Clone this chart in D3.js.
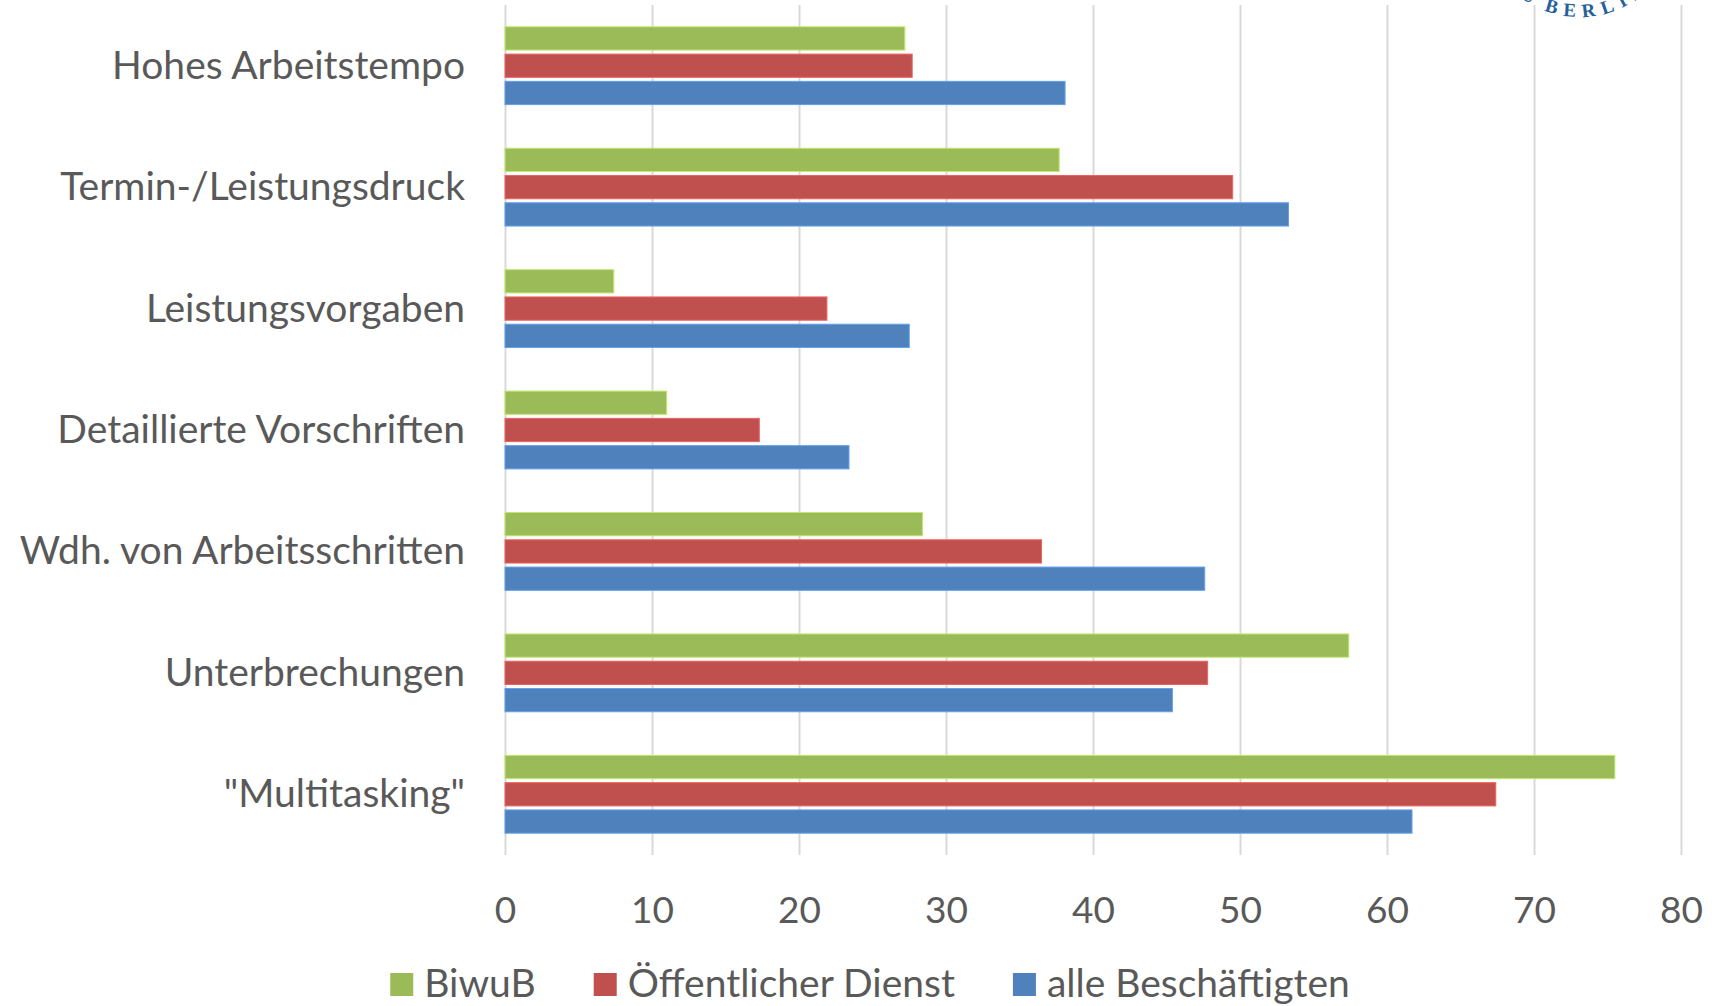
<!DOCTYPE html>
<html>
<head>
<meta charset="utf-8">
<script src="https://cdn.jsdelivr.net/npm/d3@7"></script>
<style>
  body { margin: 0; background: #fff; }
  svg text { font-family: Lato, "Open Sans", sans-serif; fill: #595959; }
  .logo text { font-family: "Liberation Serif", "DejaVu Serif", serif; fill: #25609b; }
</style>
</head>
<body>
<svg id="chart" width="1721" height="1006"></svg>
<script>
// categories, top to bottom
const categories = [
    "Hohes Arbeitstempo",
    "Termin-/Leistungsdruck",
    "Leistungsvorgaben",
    "Detaillierte Vorschriften",
    "Wdh. von Arbeitsschritten",
    "Unterbrechungen",
    "\"Multitasking\""
];

const seriesNames = ["BiwuB", "Öffentlicher Dienst", "alle Beschäftigten"];
const seriesColors = ["#9bbb59", "#c0504d", "#4f81bd"];

// values in percent
const biwub = [27.2, 37.7, 7.4, 11.0, 28.4, 57.4, 75.5];
const oeffentlicherDienst = [27.7, 49.5, 21.9, 17.3, 36.5, 47.8, 67.4];
const alleBeschaeftigten = [38.1, 53.3, 27.5, 23.4, 47.6, 45.4, 61.7];

const xTicks = [0, 10, 20, 30, 40, 50, 60, 70, 80];

const seriesValues = [biwub, oeffentlicherDienst, alleBeschaeftigten];

const svg = d3.select("#chart");
const margin = {top: 5, left: 505, right: 40};
const plotBottom = 855;
const width = +svg.attr("width");
const labelSize = "39px";

const x = d3.scaleLinear()
    .domain([0, 80])
    .range([margin.left, width - margin.right]);

const y0 = d3.scaleBand()
    .domain(categories)
    .range([margin.top, plotBottom])
    .padding(0);

const y1 = d3.scaleBand()
    .domain(seriesNames)
    .range([0, y0.bandwidth()])
    .paddingInner(0.147)
    .paddingOuter(0.8);

const color = d3.scaleOrdinal().domain(seriesNames).range(seriesColors);

// gridlines
svg.append("g")
    .attr("transform", `translate(0,${plotBottom})`)
    .call(d3.axisBottom(x).tickValues(xTicks).tickSize(-(plotBottom - margin.top)).tickFormat(""))
    .call(g => g.select(".domain").remove())
    .call(g => g.selectAll("line").attr("stroke", "#d9d9d9").attr("stroke-width", 2));

// tick labels
svg.append("g")
    .attr("transform", `translate(0,${plotBottom})`)
    .call(d3.axisBottom(x).tickValues(xTicks).tickSize(0).tickPadding(0))
    .call(g => g.select(".domain").remove())
    .call(g => g.selectAll("text")
        .attr("y", 68)
        .attr("dy", null)
        .style("font-size", "37px")
        .style("fill", "#595959"));

// bars
const rows = categories.map((c, i) => ({
    category: c,
    values: seriesNames.map((s, j) => ({series: s, value: seriesValues[j][i]}))
}));

const groups = svg.append("g").selectAll("g")
    .data(rows)
    .enter().append("g")
    .attr("transform", d => `translate(0,${y0(d.category)})`);

groups.selectAll("rect")
    .data(d => d.values)
    .enter().append("rect")
    .attr("x", x(0))
    .attr("y", d => y1(d.series))
    .attr("width", d => x(d.value) - x(0))
    .attr("height", y1.bandwidth())
    .attr("fill", d => color(d.series))
    .attr("stroke", d => d3.color(color(d.series)).brighter(0.6))
    .attr("stroke-width", 1);

// category labels
svg.append("g").selectAll("text")
    .data(categories)
    .enter().append("text")
    .attr("x", 465)
    .attr("y", d => y0(d) + y0.bandwidth() / 2 + 13)
    .attr("text-anchor", "end")
    .style("font-size", labelSize)
    .text(d => d);

// legend
const legend = svg.append("g");
const items = legend.selectAll("g")
    .data(seriesNames)
    .enter().append("g");

items.append("rect")
    .attr("y", 973)
    .attr("width", 23)
    .attr("height", 23)
    .attr("fill", d => color(d));

items.append("text")
    .attr("x", 34)
    .attr("y", 997)
    .style("font-size", labelSize)
    .text(d => d);

let cursor = 0;
items.each(function() {
    const g = d3.select(this);
    g.attr("transform", `translate(${cursor},0)`);
    cursor += 34 + g.select("text").node().getComputedTextLength() + 58;
});
const legendWidth = cursor - 58;
legend.attr("transform", `translate(${870 - legendWidth / 2},0)`);

// cropped seal lettering in the top right corner
const logo = svg.append("g").attr("class", "logo");
const cx = 1580, cy = -83, r = 100;
logo.append("path")
    .attr("id", "sealArc")
    .attr("fill", "none")
    .attr("d", `M${cx - r},${cy} A${r},${r} 0 0 0 ${cx + r},${cy}`);
const bottomOffset = Math.PI * r / 2;
logo.append("text")
    .style("font-size", "19px")
    .style("font-weight", "bold")
    .style("letter-spacing", "7px")
    .append("textPath")
    .attr("href", "#sealArc")
    .attr("startOffset", bottomOffset - 37)
    .text("BERLIN");
logo.append("text")
    .style("font-size", "19px")
    .style("font-weight", "bold")
    .style("letter-spacing", "7px")
    .attr("text-anchor", "end")
    .append("textPath")
    .attr("href", "#sealArc")
    .attr("startOffset", bottomOffset - 44)
    .text("ZU");
</script>
</body>
</html>
